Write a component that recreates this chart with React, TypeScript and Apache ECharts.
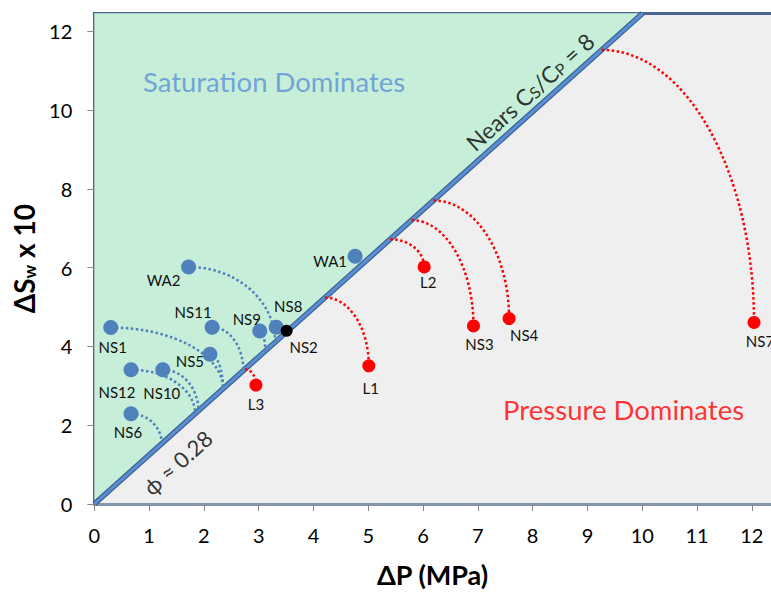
import React, { useEffect, useRef } from 'react';
import * as echarts from 'echarts';

const FONT = 'Lato, "Open Sans", "DejaVu Sans", sans-serif';

// Axis extents and ticks
const X_MAX = 12.35;
const Y_MAX = 12.46;
const xTicks = [0, 1, 2, 3, 4, 5, 6, 7, 8, 9, 10, 11, 12];
const yTicks = [0, 2, 4, 6, 8, 10, 12];

// Boundary line (ΔSw*10 = slope * ΔP), "Nears Cs/Cp = 8"
const BOUNDARY_SLOPE = 1.245;

// Saturation-dominated samples (blue)
const blueNames = ['NS1', 'NS11', 'NS9', 'NS8', 'NS5', 'NS12', 'NS10', 'NS6', 'WA2', 'WA1'];
const blueDP = [0.3, 2.15, 3.02, 3.32, 2.11, 0.67, 1.25, 0.67, 1.72, 4.76];
const blueDS = [4.48, 4.49, 4.39, 4.49, 3.8, 3.41, 3.41, 2.29, 6.02, 6.29];

// Pressure-dominated samples (red)
const redNames = ['L3', 'L1', 'L2', 'NS3', 'NS4', 'NS7'];
const redDP = [2.95, 5.01, 6.02, 6.92, 7.57, 12.04];
const redDS = [3.02, 3.51, 6.02, 4.52, 4.71, 4.61];

// Sample on the boundary (black)
const blackNames = ['NS2'];
const blackDP = [3.51];
const blackDS = [4.4];

// Dotted arcs: sample -> ΔP where the arc meets the boundary line
const arcSample = ['NS1', 'NS5', 'NS11', 'NS12', 'NS10', 'NS6', 'WA2', 'NS9', 'L3', 'L1', 'L2', 'NS3', 'NS4', 'NS7'];
const arcLineDP = [2.35, 2.35, 2.72, 1.84, 1.9, 1.23, 3.3, 3.12, 2.75, 4.21, 5.4, 5.79, 6.19, 9.26];

// Label offsets (px) relative to each marker
const labelOffsets: Record<string, [number, number]> = {
  NS1: [2, 19], NS11: [-19, -15], NS9: [-13, -12], NS8: [12, -21], NS2: [17, 16],
  NS5: [-20, 7], NS12: [-14, 22], NS10: [-1, 23], NS6: [-3, 18], WA2: [-25, 13],
  WA1: [-25, 5], L3: [0, 19], L1: [2, 22], L2: [4, 15], NS3: [6, 18], NS4: [15, 16], NS7: [6, 19],
};

const BLUE = '#4f81bd';
const RED = '#ff0000';

function pointItems(names: string[], xs: number[], ys: number[]) {
  return names.map((n, i) => ({
    name: n,
    value: [xs[i], ys[i]],
    label: { offset: labelOffsets[n] || [0, 18] },
  }));
}

export default function App() {
  const ref = useRef<HTMLDivElement>(null);
  useEffect(() => {
    if (!ref.current) return;
    const chart = echarts.init(ref.current, null, { renderer: 'svg' });

    const lookup: Record<string, { x: number; y: number; red: boolean }> = {};
    blueNames.forEach((n, i) => (lookup[n] = { x: blueDP[i], y: blueDS[i], red: false }));
    redNames.forEach((n, i) => (lookup[n] = { x: redDP[i], y: redDS[i], red: true }));

    const arcData = arcSample.map((n, i) => {
      const p = lookup[n];
      const lx = arcLineDP[i];
      const ly = BOUNDARY_SLOPE * lx;
      // upper-left end first, lower-right end second
      return p.red ? [lx, ly, p.x, p.y, 1] : [p.x, p.y, lx, ly, 0];
    });

    const xTop = Y_MAX / BOUNDARY_SLOPE;

    const labelStyle = {
      show: true,
      position: 'inside',
      formatter: '{b}',
      fontFamily: FONT,
      fontSize: 15,
      color: '#111',
    };

    const option: any = {
      animation: false,
      grid: {
        left: 94.3,
        top: 13.3,
        right: 0,
        bottom: 86.3,
        show: true,
        backgroundColor: '#efefef',
        borderWidth: 0,
      },
      xAxis: [
        {
          type: 'value',
          min: 0,
          max: X_MAX,
          name: 'ΔP (MPa)',
          nameLocation: 'middle',
          nameGap: 57,
          nameTextStyle: { fontFamily: FONT, fontSize: 27, fontWeight: 'bold', color: '#000' },
          axisLine: { show: true, lineStyle: { color: '#8497b0', width: 3 } },
          axisTick: { show: true, customValues: xTicks, length: 7, lineStyle: { color: '#888' } },
          axisLabel: { customValues: xTicks, margin: 21, fontFamily: FONT, fontSize: 20, color: '#000' },
          splitLine: { show: false },
        },
        {
          type: 'value',
          position: 'top',
          min: 0,
          max: X_MAX,
          axisLine: { show: true, onZero: false, lineStyle: { color: '#4a6592', width: 3 } },
          axisTick: { show: false },
          axisLabel: { show: false },
          splitLine: { show: false },
        },
      ],
      yAxis: {
        type: 'value',
        min: 0,
        max: Y_MAX,
        name: '{a|ΔS}{b|w}{a| x 10}',
        nameLocation: 'middle',
        nameGap: 54,
        nameRotate: 90,
        nameTextStyle: {
          rich: {
            a: { fontFamily: FONT, fontSize: 28, fontWeight: 'bold', color: '#000', verticalAlign: 'bottom' },
            b: { fontFamily: FONT, fontSize: 17, fontWeight: 'bold', color: '#000', verticalAlign: 'bottom' },
          },
        },
        axisLine: { show: true, onZero: false, lineStyle: { color: '#4a6592', width: 3 } },
        axisTick: { show: true, customValues: yTicks, length: 7, lineStyle: { color: '#888' } },
        axisLabel: { customValues: yTicks, margin: 22, fontFamily: FONT, fontSize: 20, color: '#000' },
        splitLine: { show: false },
      },
      series: [
        {
          type: 'custom',
          name: 'saturationRegion',
          silent: true,
          z: 1,
          data: [[0, 0]],
          renderItem: (_p: any, api: any) => {
            const a = api.coord([0, 0]);
            const b = api.coord([xTop, Y_MAX]);
            const c = api.coord([0, Y_MAX]);
            return {
              type: 'polygon',
              shape: { points: [a, b, c] },
              style: { fill: '#c6eed8' },
            };
          },
        },
        {
          type: 'line',
          name: 'boundaryEdge',
          silent: true,
          z: 2,
          symbol: 'none',
          data: [[0, 0], [xTop, Y_MAX]],
          lineStyle: { color: '#3b6497', width: 5.5 },
        },
        {
          type: 'line',
          name: 'boundary',
          silent: true,
          z: 3,
          symbol: 'none',
          data: [[0, 0], [xTop, Y_MAX]],
          lineStyle: { color: '#5b8ed2', width: 3 },
        },
        {
          type: 'custom',
          name: 'arcs',
          silent: true,
          z: 4,
          encode: { x: [0, 2], y: [1, 3] },
          data: arcData,
          renderItem: (_p: any, api: any) => {
            const a = api.coord([api.value(0), api.value(1)]);
            const b = api.coord([api.value(2), api.value(3)]);
            const k = 0.5523;
            return {
              type: 'bezierCurve',
              shape: {
                x1: a[0], y1: a[1], x2: b[0], y2: b[1],
                cpx1: a[0] + k * (b[0] - a[0]), cpy1: a[1],
                cpx2: b[0], cpy2: b[1] - k * (b[1] - a[1]),
              },
              style: {
                fill: 'none',
                stroke: api.value(4) ? RED : BLUE,
                lineWidth: 2.5,
                lineDash: [2.5, 2.5],
              },
            };
          },
        },
        {
          type: 'scatter',
          name: 'saturation',
          z: 5,
          symbolSize: 15,
          itemStyle: { color: BLUE, opacity: 1 },
          label: labelStyle,
          data: pointItems(blueNames, blueDP, blueDS),
        },
        {
          type: 'scatter',
          name: 'pressure',
          z: 5,
          symbolSize: 13,
          itemStyle: { color: RED, opacity: 1 },
          label: labelStyle,
          data: pointItems(redNames, redDP, redDS),
        },
        {
          type: 'scatter',
          name: 'boundarySample',
          z: 6,
          symbolSize: 12,
          itemStyle: { color: '#000', opacity: 1 },
          label: labelStyle,
          data: pointItems(blackNames, blackDP, blackDS),
        },
        {
          type: 'scatter',
          name: 'annotations',
          silent: true,
          z: 7,
          symbolSize: 1,
          itemStyle: { color: 'transparent' },
          data: [
            {
              value: [3.28, 10.72],
              label: { show: true, position: 'inside', formatter: 'Saturation Dominates', fontFamily: FONT, fontSize: 27.5, color: '#5b8fd6' },
            },
            {
              value: [9.66, 2.4],
              label: { show: true, position: 'inside', formatter: 'Pressure Dominates', fontFamily: FONT, fontSize: 27.5, color: RED },
            },
            {
              value: [7.95, 10.47],
              label: {
                show: true,
                position: 'inside',
                rotate: 42,
                formatter: '{a|Nears C}{b|S}{a|/C}{b|P}{a| = 8}',
                rich: {
                  a: { fontFamily: FONT, fontSize: 23, color: '#000', verticalAlign: 'bottom' },
                  b: { fontFamily: FONT, fontSize: 16, color: '#000', verticalAlign: 'bottom' },
                },
              },
            },
            {
              value: [1.52, 1.05],
              label: { show: true, position: 'inside', rotate: 42, formatter: 'ϕ ≈ 0.28', fontFamily: FONT, fontSize: 22, color: '#000' },
            },
          ],
        },
      ],
    };

    chart.setOption(option);
    return () => chart.dispose();
  }, []);

  return (
    <div
      ref={ref}
      style={{ position: 'fixed', left: 0, top: 0, width: 771, height: 593, background: '#fff' }}
    />
  );
}
